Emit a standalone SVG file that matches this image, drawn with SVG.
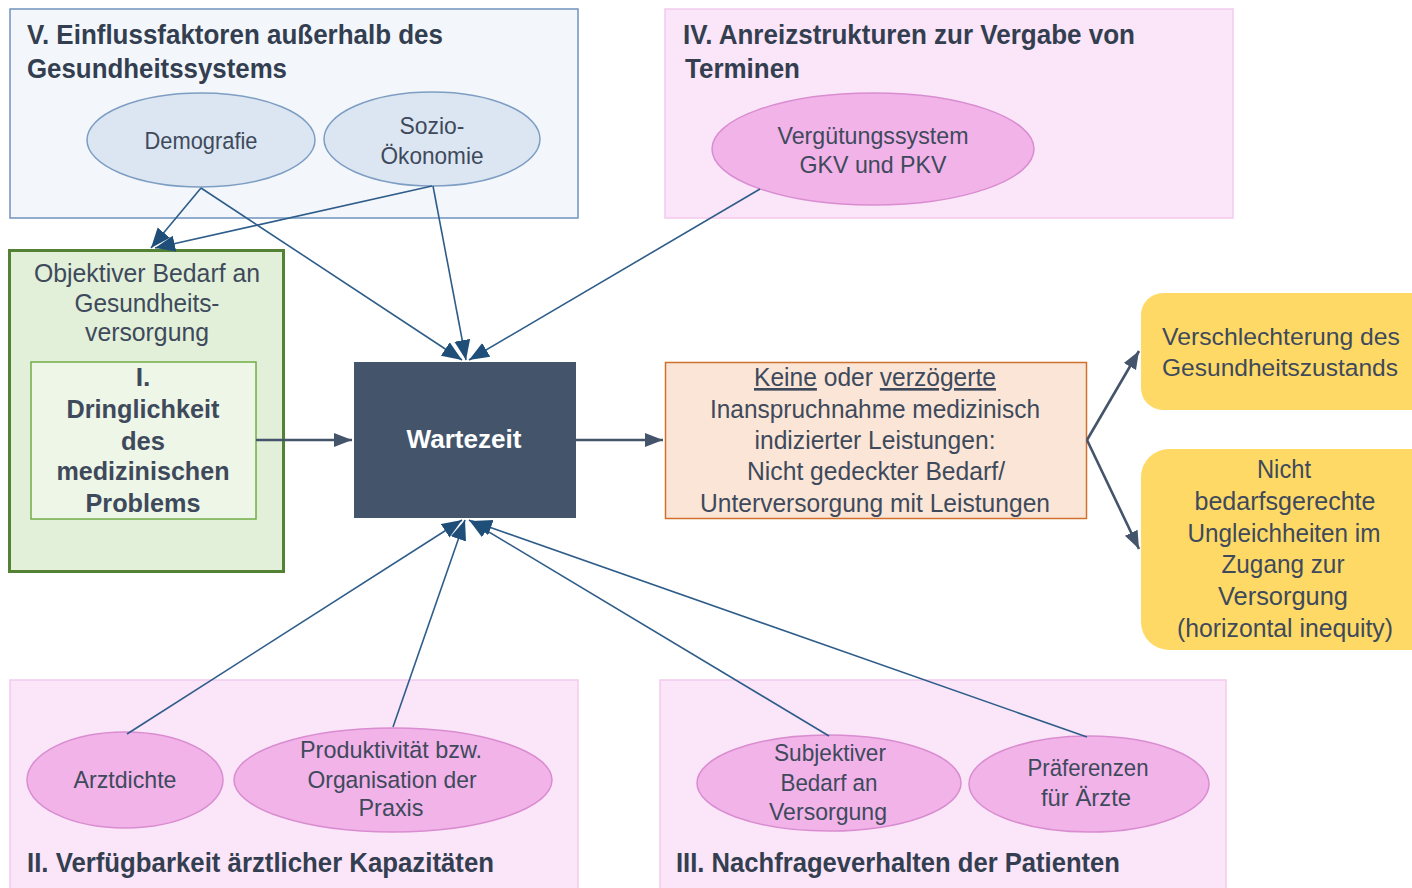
<svg xmlns="http://www.w3.org/2000/svg" width="1412" height="888" viewBox="0 0 1412 888">
<style>
text{font-family:"Liberation Sans",Arial,sans-serif;fill:#3e4a5b}
.title{font-size:28.5px;font-weight:bold;fill:#333f50}
.body{font-size:26.5px;text-anchor:middle}
.ell{font-size:24.5px;text-anchor:middle}
.bold{font-weight:bold}
.blue{fill:#f3f7fc;stroke:#6f93bd;stroke-width:1.5}
.pink{fill:#fbe5f8;stroke:#f4caee;stroke-width:1.5}
.eblue{fill:#dce6f2;stroke:#7d9dc2;stroke-width:1.5}
.epink{fill:#f2b3e9;stroke:#d98dd0;stroke-width:1.5}
.yellow{fill:#ffd966}
.conn{stroke:#2f5d8a;stroke-width:1.6;fill:none}
.dark{stroke:#44546a;stroke-width:2.6;fill:none}
</style>
<defs>
<marker id="ab" markerUnits="userSpaceOnUse" markerWidth="22" markerHeight="18" refX="20" refY="9" orient="auto">
<path d="M0,1 L20,9 L0,17 Z" fill="#1f4e79"/>
</marker>
<marker id="ad" markerUnits="userSpaceOnUse" markerWidth="20" markerHeight="16" refX="18" refY="8" orient="auto">
<path d="M0,1 L18,8 L0,15 Z" fill="#44546a"/>
</marker>
</defs>

<g id="group-V">
<rect x="10" y="9" width="568" height="209" class="blue"/>
<text class="title" x="27" y="44" textLength="416" lengthAdjust="spacingAndGlyphs">V. Einflussfaktoren außerhalb des</text>
<text class="title" x="27" y="78" textLength="260" lengthAdjust="spacingAndGlyphs">Gesundheitssystems</text>
</g>
<g id="node-demografie">
<ellipse cx="201" cy="140" rx="114" ry="47" class="eblue"/>
<text class="ell" x="201" y="149" textLength="113" lengthAdjust="spacingAndGlyphs">Demografie</text>
</g>
<g id="node-sozio">
<ellipse cx="432" cy="139" rx="108" ry="47" class="eblue"/>
<text class="ell" x="432" y="134" textLength="65" lengthAdjust="spacingAndGlyphs">Sozio-</text>
<text class="ell" x="432" y="164" textLength="103" lengthAdjust="spacingAndGlyphs">Ökonomie</text>
</g>

<g id="group-IV">
<rect x="665" y="9" width="568" height="209" class="pink"/>
<text class="title" x="683" y="44" textLength="452" lengthAdjust="spacingAndGlyphs">IV. Anreizstrukturen zur Vergabe von</text>
<text class="title" x="685" y="78" textLength="115" lengthAdjust="spacingAndGlyphs">Terminen</text>
</g>
<g id="node-verguetung">
<ellipse cx="873" cy="149" rx="161" ry="56" class="epink"/>
<text class="ell" x="873" y="144" textLength="191" lengthAdjust="spacingAndGlyphs">Vergütungssystem</text>
<text class="ell" x="873" y="173" textLength="147" lengthAdjust="spacingAndGlyphs">GKV und PKV</text>
</g>

<g id="node-objektiver-bedarf">
<rect x="9.5" y="250.5" width="274" height="321" fill="#e2efd9" stroke="#548235" stroke-width="3"/>
<text class="body" x="147" y="282" textLength="226" lengthAdjust="spacingAndGlyphs">Objektiver Bedarf an</text>
<text class="body" x="147" y="312" textLength="145" lengthAdjust="spacingAndGlyphs">Gesundheits-</text>
<text class="body" x="147" y="341" textLength="124" lengthAdjust="spacingAndGlyphs">versorgung</text>
</g>
<g id="node-dringlichkeit">
<rect x="31" y="362" width="225" height="157" fill="#eef6e8" stroke="#70ad47" stroke-width="1.5"/>
<text class="body bold" x="143" y="386">I.</text>
<text class="body bold" x="143" y="418" textLength="153" lengthAdjust="spacingAndGlyphs">Dringlichkeit</text>
<text class="body bold" x="143" y="450" textLength="44" lengthAdjust="spacingAndGlyphs">des</text>
<text class="body bold" x="143" y="480" textLength="173" lengthAdjust="spacingAndGlyphs">medizinischen</text>
<text class="body bold" x="143" y="512" textLength="115" lengthAdjust="spacingAndGlyphs">Problems</text>
</g>

<g id="node-wartezeit">
<rect x="354" y="362" width="222" height="156" fill="#44546a"/>
<text class="body bold" x="464" y="448" style="fill:#ffffff" textLength="115" lengthAdjust="spacingAndGlyphs">Wartezeit</text>
</g>

<g id="node-inanspruchnahme">
<rect x="665.5" y="362.5" width="421" height="156" fill="#fbe5d6" stroke="#d0722e" stroke-width="1.5"/>
<text class="body" x="875" y="386" textLength="242" lengthAdjust="spacingAndGlyphs"><tspan text-decoration="underline">Keine</tspan> oder <tspan text-decoration="underline">verzögerte</tspan></text>
<text class="body" x="875" y="418" textLength="330" lengthAdjust="spacingAndGlyphs">Inanspruchnahme medizinisch</text>
<text class="body" x="875" y="449" textLength="241" lengthAdjust="spacingAndGlyphs">indizierter Leistungen:</text>
<text class="body" x="876" y="480" textLength="258" lengthAdjust="spacingAndGlyphs">Nicht gedeckter Bedarf/</text>
<text class="body" x="875" y="512" textLength="350" lengthAdjust="spacingAndGlyphs">Unterversorgung mit Leistungen</text>
</g>

<g id="node-verschlechterung">
<path class="yellow" d="M1163,293 H1412 V410 H1163 A22,22 0 0 1 1141,388 V315 A22,22 0 0 1 1163,293 Z"/>
<text class="body" style="font-size:24.5px" x="1281" y="345" textLength="238" lengthAdjust="spacingAndGlyphs">Verschlechterung des</text>
<text class="body" style="font-size:24.5px" x="1280" y="376" textLength="236" lengthAdjust="spacingAndGlyphs">Gesundheitszustands</text>
</g>
<g id="node-ungleichheiten">
<path class="yellow" d="M1169,449 H1412 V650 H1169 A28,28 0 0 1 1141,622 V477 A28,28 0 0 1 1169,449 Z"/>
<text class="body" x="1284" y="478" textLength="54" lengthAdjust="spacingAndGlyphs">Nicht</text>
<text class="body" x="1285" y="510" textLength="181" lengthAdjust="spacingAndGlyphs">bedarfsgerechte</text>
<text class="body" x="1284" y="542" textLength="193" lengthAdjust="spacingAndGlyphs">Ungleichheiten im</text>
<text class="body" x="1283" y="573" textLength="123" lengthAdjust="spacingAndGlyphs">Zugang zur</text>
<text class="body" x="1283" y="605" textLength="130" lengthAdjust="spacingAndGlyphs">Versorgung</text>
<text class="body" x="1285" y="637" textLength="216" lengthAdjust="spacingAndGlyphs">(horizontal inequity)</text>
</g>

<g id="group-II">
<rect x="10" y="680" width="568" height="210" class="pink"/>
<text class="title" x="27" y="872" textLength="467" lengthAdjust="spacingAndGlyphs">II. Verfügbarkeit ärztlicher Kapazitäten</text>
</g>
<g id="node-arztdichte">
<ellipse cx="125" cy="780" rx="98" ry="48" class="epink"/>
<text class="ell" x="125" y="788" textLength="103" lengthAdjust="spacingAndGlyphs">Arztdichte</text>
</g>
<g id="node-produktivitaet">
<ellipse cx="393" cy="780" rx="159" ry="52" class="epink"/>
<text class="ell" x="391" y="758" textLength="182" lengthAdjust="spacingAndGlyphs">Produktivität bzw.</text>
<text class="ell" x="392" y="788" textLength="169" lengthAdjust="spacingAndGlyphs">Organisation der</text>
<text class="ell" x="391" y="816" textLength="65" lengthAdjust="spacingAndGlyphs">Praxis</text>
</g>

<g id="group-III">
<rect x="660" y="680" width="566" height="210" class="pink"/>
<text class="title" x="676" y="872" textLength="444" lengthAdjust="spacingAndGlyphs">III. Nachfrageverhalten der Patienten</text>
</g>
<g id="node-subjektiver">
<ellipse cx="829" cy="783" rx="132" ry="48" class="epink"/>
<text class="ell" x="830" y="761" textLength="112" lengthAdjust="spacingAndGlyphs">Subjektiver</text>
<text class="ell" x="829" y="791" textLength="97" lengthAdjust="spacingAndGlyphs">Bedarf an</text>
<text class="ell" x="828" y="820" textLength="118" lengthAdjust="spacingAndGlyphs">Versorgung</text>
</g>
<g id="node-praeferenzen">
<ellipse cx="1089" cy="784" rx="120" ry="48" class="epink"/>
<text class="ell" x="1088" y="776" textLength="121" lengthAdjust="spacingAndGlyphs">Präferenzen</text>
<text class="ell" x="1086" y="806" textLength="90" lengthAdjust="spacingAndGlyphs">für Ärzte</text>
</g>

<g id="connectors">
<line x1="201" y1="188" x2="151" y2="248" class="conn" marker-end="url(#ab)"/>
<line x1="432" y1="186" x2="155" y2="248" class="conn" marker-end="url(#ab)"/>
<line x1="201" y1="188" x2="462" y2="360" class="conn" marker-end="url(#ab)"/>
<line x1="433" y1="186" x2="466" y2="360" class="conn" marker-end="url(#ab)"/>
<line x1="760" y1="189" x2="469" y2="360" class="conn" marker-end="url(#ab)"/>
<line x1="127" y1="734" x2="462" y2="520" class="conn" marker-end="url(#ab)"/>
<line x1="393" y1="727" x2="465" y2="520" class="conn" marker-end="url(#ab)"/>
<line x1="829" y1="736" x2="469" y2="520" class="conn" marker-end="url(#ab)"/>
<line x1="1087" y1="737" x2="472" y2="521" class="conn" marker-end="url(#ab)"/>
<line x1="256" y1="440" x2="352" y2="440" class="dark" marker-end="url(#ad)"/>
<line x1="576" y1="440" x2="663" y2="440" class="dark" marker-end="url(#ad)"/>
<line x1="1087" y1="440" x2="1139" y2="351" class="dark" marker-end="url(#ad)"/>
<line x1="1087" y1="440" x2="1139" y2="549" class="dark" marker-end="url(#ad)"/>
</g>
</svg>
